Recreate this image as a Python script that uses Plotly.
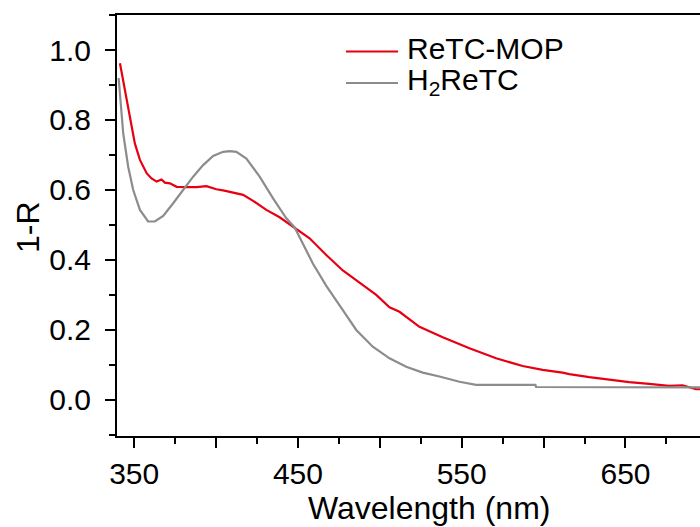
import plotly.graph_objects as go

# ---------------- data ----------------
series_names = ["ReTC-MOP", "H<sub>2</sub>ReTC"]

mop_wl = [341.3, 343.5, 345.4, 347.4, 350.4, 353.5, 357.6, 360.6, 363.7, 366.7, 368.7,
          371.8, 373.8, 375.9, 382.0, 388.0, 394.1, 400.2, 405.0, 410.4, 416.5, 422.6,
          430.7, 438.8, 448.0, 457.1, 467.3, 477.4, 487.6, 497.8, 505.9, 512.0, 524.2,
          538.4, 554.7, 571.0, 587.2, 599.4, 611.6, 615.7, 627.9, 640.1, 652.3, 664.5,
          676.6, 684.8, 693.0, 700.0]
mop_val = [0.962, 0.905, 0.857, 0.810, 0.733, 0.686, 0.648, 0.633, 0.624, 0.630, 0.621,
           0.619, 0.614, 0.609, 0.608, 0.608, 0.611, 0.602, 0.598, 0.592, 0.586, 0.569,
           0.543, 0.522, 0.493, 0.462, 0.414, 0.370, 0.335, 0.300, 0.265, 0.252, 0.209,
           0.179, 0.148, 0.119, 0.097, 0.086, 0.078, 0.074, 0.065, 0.057, 0.051, 0.046,
           0.040, 0.042, 0.031, 0.030]

h2_wl = [340.5, 343.3, 346.3, 349.4, 353.5, 358.5, 362.6, 367.7, 373.8, 379.9, 386.0,
         392.1, 398.2, 404.3, 408.4, 412.4, 418.5, 426.6, 434.8, 442.9, 448.0, 459.1,
         467.3, 477.4, 485.6, 495.7, 505.9, 516.1, 526.2, 536.4, 548.6, 558.8, 595.0,
         595.4, 700.0]
h2_val = [0.920, 0.762, 0.667, 0.600, 0.543, 0.510, 0.510, 0.526, 0.562, 0.600, 0.638,
          0.671, 0.697, 0.709, 0.711, 0.709, 0.690, 0.638, 0.576, 0.519, 0.493, 0.390,
          0.326, 0.257, 0.200, 0.152, 0.119, 0.095, 0.078, 0.067, 0.052, 0.043, 0.043,
          0.037, 0.036]

x_tickvals = [350, 400, 450, 500, 550, 600, 650, 700]
x_ticktext = ["350", "", "450", "", "550", "", "650", ""]
y_tickvals = [0.0, 0.2, 0.4, 0.6, 0.8, 1.0]

colors = ["#e60012", "#8c8c8c"]

# ---------------- layout geometry (pixels) ----------------
W, H = 700, 527
L, T, B = 117, 15, 91
plot_w = W - L
plot_h = H - T - B

def px_x(p):
    return (p - L) / plot_w

def px_y(p):
    return (H - B - p) / plot_h

FONT = "Liberation Sans, Arial, sans-serif"
TICK_SIZE = 30

fig = go.Figure()
fig.add_trace(go.Scatter(x=mop_wl, y=mop_val, mode="lines", name=series_names[0],
                         line=dict(color=colors[0], width=2.2), showlegend=False))
fig.add_trace(go.Scatter(x=h2_wl, y=h2_val, mode="lines", name=series_names[1],
                         line=dict(color=colors[1], width=2.2), showlegend=False))

# manual legend
leg_line_y = [51.5, 83.0]
leg_text_y = [48.5, 81.5]
shapes = []
annotations = []
for i, name in enumerate(series_names):
    shapes.append(dict(type="line", xref="paper", yref="paper",
                       x0=px_x(346), x1=px_x(398), y0=px_y(leg_line_y[i]), y1=px_y(leg_line_y[i]),
                       line=dict(color=colors[i], width=2)))
    annotations.append(dict(xref="paper", yref="paper", x=px_x(405), y=px_y(leg_text_y[i]),
                            text=name, showarrow=False, xanchor="left", yanchor="middle",
                            font=dict(family=FONT, size=30, color="black")))

# axis titles
annotations.append(dict(xref="paper", yref="paper", x=px_x(428.5), y=px_y(508),
                        text="Wavelength (nm)", showarrow=False, xanchor="center",
                        yanchor="middle", font=dict(family=FONT, size=32, color="black")))
annotations.append(dict(xref="paper", yref="paper", x=px_x(28), y=px_y(227),
                        text="1-R", showarrow=False, xanchor="center", yanchor="middle",
                        textangle=-90, font=dict(family=FONT, size=32, color="black")))

fig.update_layout(
    width=W, height=H,
    margin=dict(l=L, r=0, t=T, b=B, pad=0),
    paper_bgcolor="white", plot_bgcolor="white",
    font=dict(family=FONT, size=TICK_SIZE, color="black"),
    shapes=shapes, annotations=annotations,
    showlegend=False,
)
fig.update_xaxes(
    range=[339.5, 695.5], showgrid=False, zeroline=False,
    showline=True, linecolor="black", linewidth=2, mirror=True,
    tickmode="array", tickvals=x_tickvals, ticktext=x_ticktext,
    ticks="outside", ticklen=10, tickwidth=2, tickcolor="black",
    minor=dict(tickmode="linear", tick0=325, dtick=25, ticks="outside",
               ticklen=6, tickwidth=2, tickcolor="black", showgrid=False),
    tickfont=dict(family=FONT, size=TICK_SIZE, color="black"),
)
fig.update_yaxes(
    range=[-0.103, 1.1], showgrid=False, zeroline=False,
    showline=True, linecolor="black", linewidth=2, mirror=False,
    tickmode="array", tickvals=y_tickvals, tickformat=".1f",
    ticks="outside", ticklen=10, tickwidth=2, tickcolor="black",
    ticklabelstandoff=8,
    minor=dict(tickmode="linear", tick0=0.1, dtick=0.1, ticks="outside",
               ticklen=6, tickwidth=2, tickcolor="black", showgrid=False),
    tickfont=dict(family=FONT, size=TICK_SIZE, color="black"),
)

fig.write_html("out.html", config={"displayModeBar": False},
               post_script="document.body.style.margin='0';")
